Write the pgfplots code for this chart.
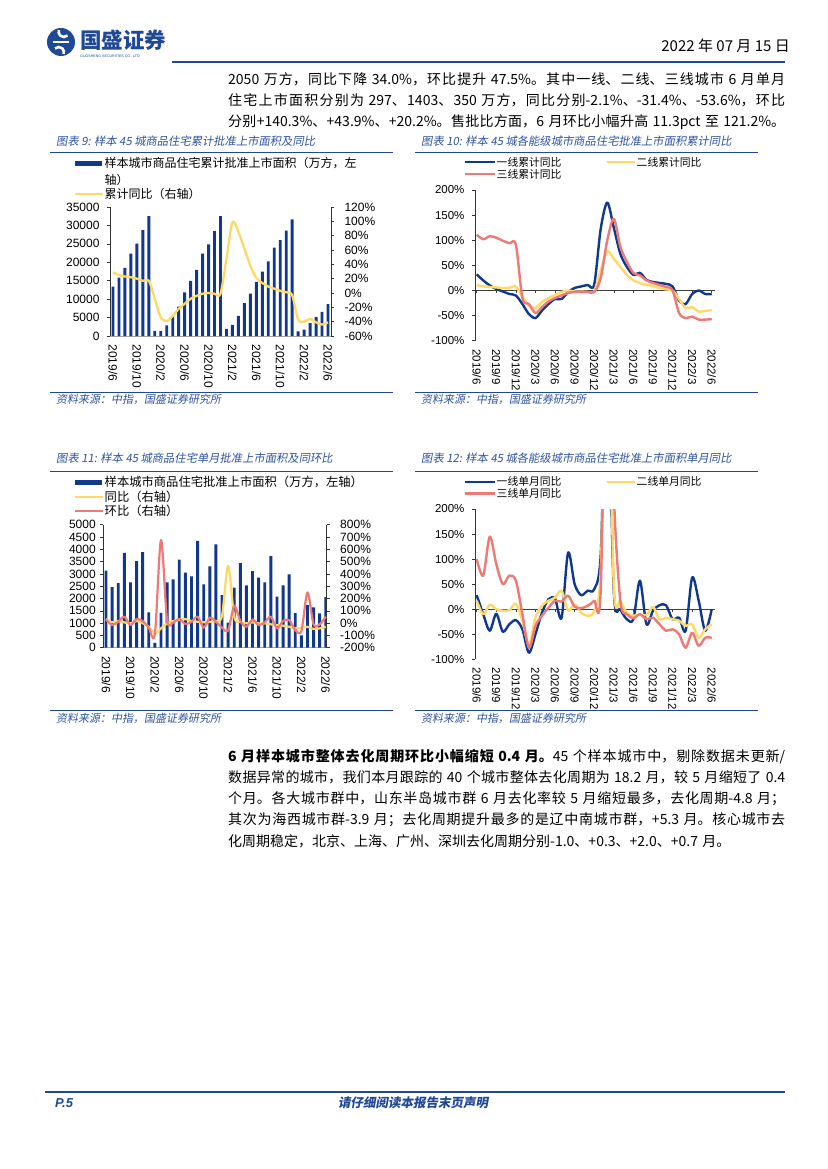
\documentclass[border=0pt]{standalone}
\usepackage{fontspec}
\usepackage{pgfplots}
\usepackage{pgfplotstable}
\pgfplotsset{compat=1.18}
\setmainfont{Liberation Sans}
\newfontfamily\cjk{Noto Sans CJK SC}
\newfontfamily\cjkit[FakeSlant=0.18]{Noto Sans CJK SC}
\XeTeXlinebreaklocale "zh"
\XeTeXlinebreakskip = 0pt plus 1.5pt
\newcommand\fs[2]{\fontsize{#1}{#2}\selectfont}
\definecolor{navy}{RGB}{16,56,140}
\definecolor{ylw}{RGB}{255,217,102}
\definecolor{salmon}{RGB}{238,122,118}
\definecolor{hdr}{RGB}{31,73,150}
\definecolor{ttl}{RGB}{46,84,160}

\pgfplotstableread{
i area yoy
0 13400 29
1 15860 25
2 18500 23
3 22330 22
4 25070 20
5 28700 17
6 32540 17
7 1370 -8
8 1370 -34
9 2900 -39
10 5470 -32
11 8000 -22
12 11850 -15
13 14950 -8
14 17960 -4
15 22330 -1
16 24880 0
17 28440 -1
18 32540 -1
19 1900 48
20 3000 99
21 5470 85
22 8930 62
23 11480 38
24 14680 21
25 17500 14
26 20240 9
27 23970 6
28 25980 3
29 28620 1
30 31630 -3
31 1280 -37
32 1730 -40
33 3460 -36
34 5100 -41
35 6560 -44
36 8660 -41
}\tabA

\pgfplotstableread{
i t1 t2 t3
0 32 11 111
1 20 8 102
2 10 7 108
3 3 6 105
4 -2 5 99
5 -7 5 94
6 -10 8 91
7 -27 -13 -15
8 -47 -30 -27
9 -55 -35 -45
10 -40 -23 -33
11 -27 -15 -22
12 -17 -9 -15
13 -17 -3 -10
14 -3 0 -5
15 5 -2 -3
16 8 -2 -3
17 11 -3 -3
18 12 -2 -3
19 123 40 25
20 175 78 100
21 125 63 143
22 73 47 87
23 47 31 57
24 31 20 35
25 35 15 30
26 21 11 20
27 17 9 15
28 15 5 11
29 13 2 7
30 8 0 0
31 -20 -17 -45
32 -27 -35 -55
33 -7 -33 -52
34 0 -42 -58
35 -7 -41 -58
36 -7 -39 -57
}\tabB

\pgfplotstableread{
i area yoy mom
0 3130 33 30
1 2466 6 -16
2 2630 17 11
3 3860 6 52
4 2655 -2 -16
5 3523 17 33
6 3890 0 17
7 1436 -30 -37
8 200 -85 -89
9 1420 -43 675
10 2655 -2 25
11 2780 17 6
12 3580 25 33
13 3050 33 -8
14 2900 17 11
15 4340 11 52
16 2575 6 -37
17 3306 11 44
18 4200 17 11
19 2140 60 -37
20 1016 467 -60
21 2440 52 140
22 3440 11 17
23 2530 -2 -30
24 3116 6 30
25 2845 -2 -16
26 2655 -2 6
27 3726 -10 52
28 2073 -16 -43
29 2530 -21 17
30 2980 -30 25
31 1410 -43 -56
32 500 -37 -65
33 1730 -30 249
34 1640 -48 -10
35 1396 -43 -10
36 2060 -30 52
}\tabC

\pgfplotstableread{
i m1 m2 m3
0 28 17 100
1 -10 -10 67
2 -43 9 145
3 -9 0 90
4 -45 -3 50
5 -30 -2 67
6 -22 11 57
7 -40 -23 -10
8 -87 -70 -77
9 -50 -17 -33
10 -7 7 -13
11 20 17 3
12 21 23 17
13 -17 37 15
14 113 -3 27
15 50 10 5
16 28 -7 2
17 37 -13 7
18 40 -3 17
19 110 80 40
20 500 600 700
21 35 45 230
22 0 17 17
23 -20 -7 -10
24 -20 -13 -18
25 57 -10 -10
26 -30 -12 -20
27 -3 5 -17
28 8 -20 -30
29 8 -17 -43
30 -20 -20 -40
31 -17 -23 -50
32 -43 -33 -77
33 63 -30 -47
34 17 -57 -73
35 -43 -40 -57
36 0 -30 -57
}\tabD

\pgfplotsset{
 pagechart/.style={scale only axis, anchor=south west,
   scaled y ticks=false, scaled x ticks=false,
   axis line style={line width=0.6pt, black!80},
   tick align=outside, major tick length=3pt,
   tick style={line width=0.6pt, black!80},
   xticklabel style={rotate=-90, anchor=west, font=\fs{11.5}{12}},
   yticklabel style={font=\fs{11.5}{12}},
   xticklabel shift=2pt},
 lin/.style={line width=2.4pt, smooth, line join=round, no marks},
}

\begin{document}
\begin{tikzpicture}
\path[use as bounding box, fill=white] (0pt,0pt) rectangle (827pt,-1169pt);
\begin{scope}[x=1pt,y=-1pt]
% header
\fill[hdr] (61,42) circle (14);
\draw[white, line width=2.6pt] (67.5,35.5) arc[start angle=45, end angle=200, radius=5.2];
\draw[white, line width=2.6pt] (55,48.5) arc[start angle=225, end angle=380, radius=5.2];
\draw[white, line width=2.2pt] (53,42) -- (69,42);
\node[anchor=west, inner sep=0, text=hdr] at (80,40) {\cjk\bfseries\fs{21.5}{22}国盛证券};
\node[anchor=west, inner sep=0, text=hdr] at (80,56) {\fs{3.6}{4}GUOSHENG SECURITIES CO., LTD.};
\node[anchor=base east, inner sep=0] at (790,52) {\cjk\fs{15}{15}2022 年 07 月 15 日};
\draw[hdr, line width=1.6pt] (172,62) -- (785,62);
% top paragraph
\node[anchor=north west, inner sep=0, text width=557pt, align=justify] at (228,72) {\cjk\fs{14}{21.3}\spaceskip=0.3em plus 0.5pt\relax
2050 万方，同比下降 34.0\%，环比提升 47.5\%。其中一线、二线、三线城市 6 月单月\linebreak
住宅上市面积分别为 297、1403、350 万方，同比分别-2.1\%、-31.4\%、-53.6\%，环比\linebreak
分别+140.3\%、+43.9\%、+20.2\%。售批比方面，6 月环比小幅升高 11.3pct 至 121.2\%。\parfillskip=0pt\par};
% bottom paragraph
\node[anchor=north west, inner sep=0, text width=557pt, align=justify] at (228,748.7) {\cjk\fs{14}{21.3}\spaceskip=0.3em plus 0.5pt\relax
{\bfseries 6 月样本城市整体去化周期环比小幅缩短 0.4 月。}45 个样本城市中，剔除数据未更新/\linebreak
数据异常的城市，我们本月跟踪的 40 个城市整体去化周期为 18.2 月，较 5 月缩短了 0.4\linebreak
个月。各大城市群中，山东半岛城市群 6 月去化率较 5 月缩短最多，去化周期-4.8 月；\linebreak
其次为海西城市群-3.9 月；去化周期提升最多的是辽中南城市群，+5.3 月。核心城市去\linebreak
化周期稳定，北京、上海、广州、深圳去化周期分别-1.0、+0.3、+2.0、+0.7 月。\par};
% chart titles
\begin{scope}[every node/.style={anchor=base west, inner sep=0}]
\node[text=ttl] at (56,146) {\cjkit\fs{11.3}{11}图表 9: 样本 45 城商品住宅累计批准上市面积及同比};
\node[text=ttl] at (421,146) {\cjkit\fs{11.3}{11}图表 10: 样本 45 城各能级城市商品住宅批准上市面积累计同比};
\node[text=ttl] at (56,462) {\cjkit\fs{11.3}{11}图表 11: 样本 45 城商品住宅单月批准上市面积及同环比};
\node[text=ttl] at (421,462) {\cjkit\fs{11.3}{11}图表 12: 样本 45 城各能级城市商品住宅批准上市面积单月同比};
% sources
\node[text=ttl] at (56,403) {\cjkit\fs{11}{11}资料来源：中指，国盛证券研究所};
\node[text=ttl] at (421,403) {\cjkit\fs{11}{11}资料来源：中指，国盛证券研究所};
\node[text=ttl] at (56,722) {\cjkit\fs{11}{11}资料来源：中指，国盛证券研究所};
\node[text=ttl] at (421,722) {\cjkit\fs{11}{11}资料来源：中指，国盛证券研究所};
\end{scope}
\draw[hdr, line width=1.3pt] (50,152.7) -- (393,152.7);
\draw[hdr, line width=1.3pt] (415,152.7) -- (758,152.7);
\draw[hdr, line width=1.3pt] (50,392.7) -- (393,392.7);
\draw[hdr, line width=1.3pt] (415,392.7) -- (758,392.7);
\draw[hdr, line width=1.3pt] (50,471.5) -- (393,471.5);
\draw[hdr, line width=1.3pt] (415,471.5) -- (758,471.5);
\draw[hdr, line width=1.3pt] (50,710.7) -- (393,710.7);
\draw[hdr, line width=1.3pt] (415,710.7) -- (758,710.7);
% legends
\begin{scope}[every node/.style={anchor=west, inner sep=0}]
\fill[navy] (75,160.8) rectangle (102,166.2);
\node at (104.5,163.5) {\cjk\fs{12}{12}样本城市商品住宅累计批准上市面积（万方，左};
\node at (104.5,179.5) {\cjk\fs{12}{12}轴）};
\draw[ylw, line width=2.4pt] (75,194) -- (103,194);
\node at (104.5,194) {\cjk\fs{12}{12}累计同比（右轴）};
\draw[navy, line width=2.4pt] (465,162.3) -- (495,162.3);
\node at (496.5,162.3) {\cjk\fs{10.8}{11}一线累计同比};
\draw[ylw, line width=2.4pt] (607,162.3) -- (635,162.3);
\node at (636.5,162.3) {\cjk\fs{10.8}{11}二线累计同比};
\draw[salmon, line width=2.4pt] (465,174.3) -- (495,174.3);
\node at (496.5,174.3) {\cjk\fs{10.8}{11}三线累计同比};
\fill[navy] (75,479.6) rectangle (102,485);
\node at (104.5,482.3) {\cjk\fs{12.3}{13}样本城市商品住宅批准上市面积（万方，左轴）};
\draw[ylw, line width=2.4pt] (75,496.7) -- (103,496.7);
\node at (104.5,496.7) {\cjk\fs{12.3}{13}同比（右轴）};
\draw[salmon, line width=2.4pt] (75,510.7) -- (103,510.7);
\node at (104.5,510.7) {\cjk\fs{12.3}{13}环比（右轴）};
\draw[navy, line width=2.4pt] (465,481.7) -- (495,481.7);
\node at (496.5,481.7) {\cjk\fs{10.8}{11}一线单月同比};
\draw[ylw, line width=2.4pt] (607,481.7) -- (635,481.7);
\node at (636.5,481.7) {\cjk\fs{10.8}{11}二线单月同比};
\draw[salmon, line width=2.4pt] (465,493.3) -- (495,493.3);
\node at (496.5,493.3) {\cjk\fs{10.8}{11}三线单月同比};
\end{scope}
% footer
\draw[hdr, line width=1.6pt] (45,1092) -- (785,1092);
\node[anchor=west, inner sep=0, text=hdr] at (55,1103) {\bfseries\itshape\fs{13}{13}P.5};
\node[inner sep=0, text=hdr] at (413,1103) {\cjkit\bfseries\fs{12.5}{13}请仔细阅读本报告末页声明};
\end{scope}

% ---------- chart 9
\begin{axis}[pagechart, at={(110pt,-336pt)}, width=221pt, height=129pt,
  xmin=-0.5, xmax=36.5, ymin=0, ymax=35000,
  axis y line*=left, axis x line*=bottom, x axis line style={black!35},
  xtick={0,4,...,36}, xtick style={draw=none},
  xticklabels={2019/6,2019/10,2020/2,2020/6,2020/10,2021/2,2021/6,2021/10,2022/2,2022/6},
  ytick={0,5000,...,35000}, yticklabels={0,5000,10000,15000,20000,25000,30000,35000},
  xticklabel style={font=\fs{12}{12}}, yticklabel style={font=\fs{12}{12}},
  yticklabel shift=4pt]
\addplot[ybar, bar width=2.9pt, fill=navy, draw=none] table[x=i,y=area]{\tabA};
\end{axis}
\begin{axis}[pagechart, at={(110pt,-336pt)}, width=221pt, height=129pt,
  xmin=-0.5, xmax=36.5, ymin=-60, ymax=120,
  axis y line*=right, axis x line=none,
  ytick={-60,-40,...,120}, yticklabels={-60\%,-40\%,-20\%,0\%,20\%,40\%,60\%,80\%,100\%,120\%},
  yticklabel style={font=\fs{12}{12}}, yticklabel shift=7pt]
\addplot[ylw, lin, line width=2.3pt] table[x=i,y=yoy]{\tabA};
\end{axis}

% ---------- chart 10
\begin{axis}[pagechart, at={(475pt,-340.7pt)}, width=240pt, height=150.7pt,
  xmin=-0.26, xmax=36.5, ymin=-100, ymax=200,
  axis y line*=left, axis x line*=bottom, x axis line style={draw=none},
  xtick={0,3,...,36}, xtick style={draw=none},
  xticklabels={2019/6,2019/9,2019/12,2020/3,2020/6,2020/9,2020/12,2021/3,2021/6,2021/9,2021/12,2022/3,2022/6},
  ytick={-100,-50,...,200}, yticklabels={-100\%,-50\%,0\%,50\%,100\%,150\%,200\%},
  yticklabel shift=4pt]
\draw[black!75, line width=0.6pt] (axis cs:-0.26,0) -- (axis cs:36.5,0);
\pgfplotsinvokeforeach{0,3,6,9,12,15,18,21,24,27,30,33,36}{\draw[black!75, line width=0.6pt] (axis cs:#1,0) -- ([yshift=-3pt]axis cs:#1,0);}
\addplot[navy, lin] table[x=i,y=t1]{\tabB};
\addplot[ylw, lin] table[x=i,y=t2]{\tabB};
\addplot[salmon, lin] table[x=i,y=t3]{\tabB};
\end{axis}

% ---------- chart 11
\begin{axis}[pagechart, at={(103.3pt,-647.7pt)}, width=223.4pt, height=123pt,
  xmin=-0.45, xmax=36.15, ymin=0, ymax=5000,
  axis y line*=left, axis x line*=bottom, x axis line style={black!35},
  xtick={0,4,...,36}, xtick style={draw=none},
  xticklabels={2019/6,2019/10,2020/2,2020/6,2020/10,2021/2,2021/6,2021/10,2022/2,2022/6},
  ytick={0,500,...,5000}, yticklabels={0,500,1000,1500,2000,2500,3000,3500,4000,4500,5000},
  xticklabel style={font=\fs{12}{12}}, yticklabel style={font=\fs{12}{12}},
  yticklabel shift=1pt]
\addplot[ybar, bar width=2.9pt, fill=navy, draw=none] table[x=i,y=area]{\tabC};
\end{axis}
\begin{axis}[pagechart, at={(103.3pt,-647.7pt)}, width=223.4pt, height=123pt,
  xmin=-0.45, xmax=36.15, ymin=-200, ymax=800,
  axis y line*=right, axis x line=none,
  ytick={-200,-100,...,800}, yticklabels={-200\%,-100\%,0\%,100\%,200\%,300\%,400\%,500\%,600\%,700\%,800\%},
  yticklabel style={font=\fs{12}{12}}, yticklabel shift=7pt]
\addplot[ylw, lin, line width=2.2pt] table[x=i,y=yoy]{\tabC};
\addplot[salmon, lin, line width=2.2pt] table[x=i,y=mom]{\tabC};
\end{axis}

% ---------- chart 12
\begin{axis}[pagechart, at={(475pt,-659.3pt)}, width=240pt, height=150.3pt,
  xmin=-0.26, xmax=36.5, ymin=-100, ymax=200,
  axis y line*=left, axis x line*=bottom, x axis line style={draw=none},
  xtick={0,3,...,36}, xtick style={draw=none},
  xticklabels={2019/6,2019/9,2019/12,2020/3,2020/6,2020/9,2020/12,2021/3,2021/6,2021/9,2021/12,2022/3,2022/6},
  ytick={-100,-50,...,200}, yticklabels={-100\%,-50\%,0\%,50\%,100\%,150\%,200\%},
  yticklabel shift=4pt]
\draw[black!75, line width=0.6pt] (axis cs:-0.26,0) -- (axis cs:36.5,0);
\pgfplotsinvokeforeach{0,3,6,9,12,15,18,21,24,27,30,33,36}{\draw[black!75, line width=0.6pt] (axis cs:#1,0) -- ([yshift=-3pt]axis cs:#1,0);}
\addplot[navy, lin] table[x=i,y=m1]{\tabD};
\addplot[ylw, lin] table[x=i,y=m2]{\tabD};
\addplot[salmon, lin] table[x=i,y=m3]{\tabD};
\end{axis}
\end{tikzpicture}
\end{document}
